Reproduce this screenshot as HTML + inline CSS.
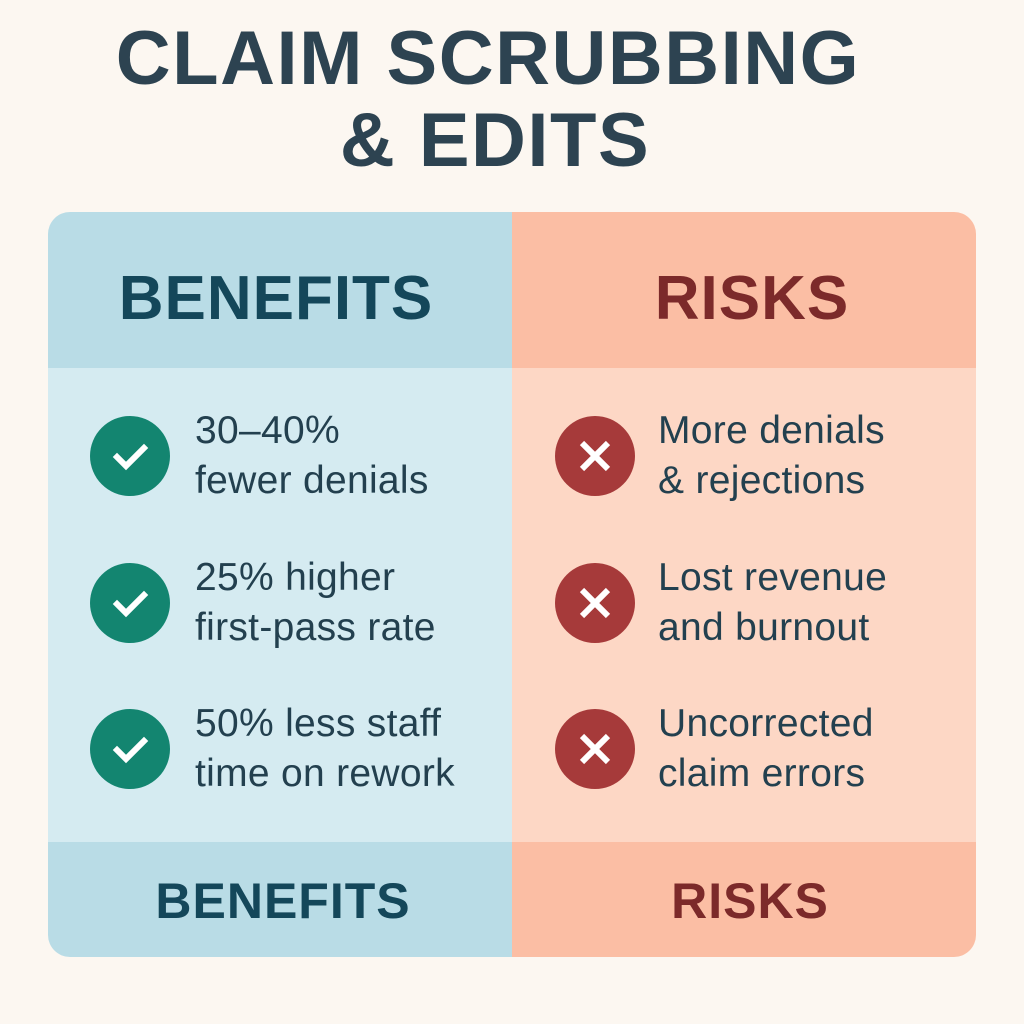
<!DOCTYPE html>
<html><head><meta charset="utf-8"><style>
*{margin:0;padding:0;box-sizing:border-box}
body{width:1024px;height:1024px;background:#fcf7f1;position:relative;overflow:hidden;font-family:"Liberation Sans",sans-serif}
.t{position:absolute;left:0;width:976px;text-align:center;font-weight:bold;color:#2d4351;font-size:76px;letter-spacing:1.5px;line-height:1}
.card{position:absolute;left:48px;top:212px;width:928px;height:745px;border-radius:22px;overflow:hidden}
.r{position:absolute}
.h{position:absolute;font-weight:bold;text-align:center;line-height:1;letter-spacing:1px}
.c{position:absolute;width:80px;height:80px;border-radius:50%}
.c svg{position:absolute;left:0;top:0}
.tx{position:absolute;font-size:39px;color:#23404f;line-height:50px;letter-spacing:0.3px}
</style></head><body>
<div class="t" style="top:21px;left:0;width:976px">CLAIM SCRUBBING</div>
<div class="t" style="top:103px;left:0;width:990px">&amp; EDITS</div>
<div class="card">
<div class="r" style="left:0;top:0;width:464px;height:156px;background:#b9dce6"></div>
<div class="r" style="left:464px;top:0;width:464px;height:156px;background:#fbbea4"></div>
<div class="r" style="left:0;top:156px;width:464px;height:474px;background:#d5ebf1"></div>
<div class="r" style="left:464px;top:156px;width:464px;height:474px;background:#fdd7c5"></div>
<div class="r" style="left:0;top:630px;width:464px;height:115px;background:#b9dce6"></div>
<div class="r" style="left:464px;top:630px;width:464px;height:115px;background:#fbbea4"></div>
</div>
<div class="h" style="left:48px;width:456px;top:268px;font-size:62px;color:#14475a">BENEFITS</div>
<div class="h" style="left:512px;width:480px;top:268px;font-size:62px;color:#7c2a2a">RISKS</div>
<div class="h" style="left:48px;width:470px;top:876px;font-size:50px;color:#14475a">BENEFITS</div>
<div class="h" style="left:512px;width:476px;top:876px;font-size:50px;color:#7c2a2a">RISKS</div>

<div class="c" style="left:90px;top:416px;background:#138570"><svg width="80" height="80"><path d="M27 41 L36 50 L54 32" stroke="#fff" stroke-width="6" fill="none" stroke-linecap="square"/></svg></div>
<div class="c" style="left:90px;top:563px;background:#138570"><svg width="80" height="80"><path d="M27 41 L36 50 L54 32" stroke="#fff" stroke-width="6" fill="none" stroke-linecap="square"/></svg></div>
<div class="c" style="left:90px;top:709px;background:#138570"><svg width="80" height="80"><path d="M27 41 L36 50 L54 32" stroke="#fff" stroke-width="6" fill="none" stroke-linecap="square"/></svg></div>
<div class="c" style="left:555px;top:416px;background:#a63a3a"><svg width="80" height="80"><path d="M27 27 L53 53 M53 27 L27 53" stroke="#fff" stroke-width="6" fill="none"/></svg></div>
<div class="c" style="left:555px;top:563px;background:#a63a3a"><svg width="80" height="80"><path d="M27 27 L53 53 M53 27 L27 53" stroke="#fff" stroke-width="6" fill="none"/></svg></div>
<div class="c" style="left:555px;top:709px;background:#a63a3a"><svg width="80" height="80"><path d="M27 27 L53 53 M53 27 L27 53" stroke="#fff" stroke-width="6" fill="none"/></svg></div>

<div class="tx" style="left:195px;top:406px">30–40%<br>fewer denials</div>
<div class="tx" style="left:195px;top:553px">25% higher<br>first-pass rate</div>
<div class="tx" style="left:195px;top:699px">50% less staff<br>time on rework</div>
<div class="tx" style="left:658px;top:406px">More denials<br>&amp; rejections</div>
<div class="tx" style="left:658px;top:553px">Lost revenue<br>and burnout</div>
<div class="tx" style="left:658px;top:699px">Uncorrected<br>claim errors</div>
</body></html>
